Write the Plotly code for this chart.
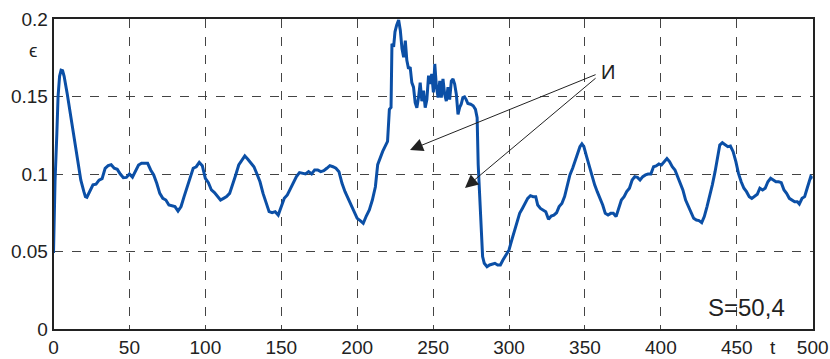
import plotly.graph_objects as go

# time samples
t = [0, 1, 2.2, 3, 4, 5, 6, 7, 9, 11, 13, 15, 17, 18, 20, 21, 22, 24, 26, 28,
     30, 32, 34, 36, 38, 40, 42, 44, 46, 48, 50, 52, 54, 56, 58, 60, 62, 64, 66, 68,
     70, 72, 74, 76, 78, 80, 82, 84, 86, 88, 90, 92, 94, 96, 98, 100, 102, 104, 106, 108,
     110, 112, 114, 116, 118, 120, 122, 124, 126, 128, 130, 132, 134, 136, 138, 140, 142, 144, 146, 148,
     150, 152, 154, 156, 158, 160, 162, 164, 166, 168, 170, 172, 174, 176, 178, 180, 182, 184, 186, 188,
     190, 192, 194, 196, 198, 200, 202, 204, 206, 208, 210, 212, 213.5, 216.8, 220, 221.2, 222.3, 222.9, 224, 224.9,
     226, 227.3, 228.4, 229.5, 230.6, 231.7, 232.7, 233.8, 234.9, 236, 237.1, 238.2, 239.3, 240.4, 241.5, 242.6, 243.7, 244.8, 245.9, 247,
     248, 249.1, 250.2, 251.1, 252.2, 253.3, 254.4, 255.4, 256.5, 257.6, 258.7, 259.8, 260.9, 262, 263.1, 264.2, 265.3, 266.4, 267.5, 268.5,
     269.6, 270.7, 271.8, 272.9, 274.7, 276.4, 277.9, 279, 279.7, 280.4, 281.5, 282.6, 283.7, 285.5, 287.2, 289, 290.7, 292.5, 294.3, 296,
     297.8, 300, 301.8, 303.5, 305.3, 307, 308.8, 310.6, 312.3, 314.1, 315.9, 317.6, 318.9, 320.7, 322.5, 324.2, 326, 327.8, 329.5, 331.3,
     333, 334.8, 336.6, 338.3, 340.1, 341.9, 343.6, 345.4, 346.7, 348, 349.3, 351.1, 352.9, 354.6, 356.4, 358.1, 359.9, 361.7, 363.4, 365.2,
     367, 368.7, 370.5, 372.2, 374, 375.8, 377.5, 379.3, 381.1, 382.8, 384.6, 386.3, 388.1, 389.9, 391.6, 393.4, 395.2, 396.9, 398.7, 400.4,
     402.2, 404, 405.7, 407.5, 409.3, 411, 412.8, 414.5, 416.3, 418.1, 419.8, 421.6, 423.4, 425.1, 426.9, 428.6, 430.4, 432.2, 433.9, 435.7,
     437.4, 438.8, 440.5, 442.3, 444.1, 445.8, 447.6, 449.4, 451.1, 452.9, 454.7, 456.4, 458.2, 459.9, 461.7, 463.5, 465.2, 467, 468.7, 470.5,
     472.3, 474, 475.8, 477.6, 479.3, 481.1, 482.8, 484.6, 486.3, 488.1, 489.9, 491.2, 493, 494.7, 496, 497.4, 498.7, 500]

# epsilon values
eps = [0.049, 0.095, 0.126, 0.150, 0.163, 0.167, 0.1667, 0.163, 0.152, 0.139, 0.126, 0.113, 0.100, 0.096, 0.0886, 0.0854, 0.085, 0.0886, 0.093, 0.0935,
       0.096, 0.097, 0.1037, 0.1054, 0.106, 0.1037, 0.103, 0.100, 0.0976, 0.0978, 0.100, 0.098, 0.1015, 0.1058, 0.107, 0.107, 0.1069, 0.1026, 0.0994, 0.094,
       0.0875, 0.0843, 0.0832, 0.080, 0.0794, 0.079, 0.0761, 0.079, 0.0854, 0.0918, 0.0983, 0.1037, 0.1047, 0.1075, 0.1054, 0.0972, 0.0944, 0.0897, 0.088, 0.0854,
       0.0832, 0.0843, 0.0854, 0.0875, 0.093, 0.0994, 0.1058, 0.109, 0.1116, 0.1095, 0.1069, 0.1047, 0.100, 0.095, 0.0875, 0.081, 0.0757, 0.075, 0.0757, 0.0735,
       0.079, 0.0843, 0.0865, 0.0908, 0.095, 0.0983, 0.1009, 0.1004, 0.100, 0.1015, 0.100, 0.1026, 0.1026, 0.1015, 0.1021, 0.1037, 0.1054, 0.1047, 0.1037, 0.1015,
       0.094, 0.0886, 0.0843, 0.081, 0.0768, 0.0714, 0.0699, 0.0682, 0.0729, 0.0768, 0.0832, 0.0918, 0.106, 0.1146, 0.121, 0.1417, 0.143, 0.184, 0.182, 0.1917,
       0.196, 0.1993, 0.1928, 0.181, 0.1754, 0.186, 0.1733, 0.168, 0.169, 0.159, 0.156, 0.146, 0.1428, 0.1493, 0.159, 0.147, 0.1537, 0.1428, 0.148, 0.1635,
       0.158, 0.1646, 0.1526, 0.171, 0.156, 0.1493, 0.160, 0.1493, 0.1613, 0.1515, 0.147, 0.156, 0.148, 0.160, 0.1613, 0.158, 0.1515, 0.1385, 0.143, 0.145,
       0.1493, 0.1498, 0.148, 0.1455, 0.145, 0.144, 0.1417, 0.1363, 0.106, 0.0918, 0.066, 0.0467, 0.0424, 0.0402, 0.0413, 0.042, 0.0424, 0.0413, 0.0413, 0.0445,
       0.0477, 0.051, 0.0574, 0.0628, 0.0692, 0.0746, 0.0778, 0.081, 0.0843, 0.086, 0.0854, 0.0854, 0.080, 0.0778, 0.0768, 0.0757, 0.0708, 0.0729, 0.0735, 0.075,
       0.079, 0.081, 0.0854, 0.0918, 0.0994, 0.1037, 0.109, 0.1144, 0.1176, 0.1194, 0.1176, 0.1112, 0.1047, 0.0994, 0.093, 0.0886, 0.0843, 0.080, 0.0746, 0.0735,
       0.0746, 0.0746, 0.0725, 0.0778, 0.0832, 0.0854, 0.0886, 0.0908, 0.0961, 0.0983, 0.0978, 0.0961, 0.0983, 0.0994, 0.100, 0.100, 0.1047, 0.1052, 0.1065, 0.1058,
       0.108, 0.110, 0.108, 0.1047, 0.1026, 0.0983, 0.094, 0.0897, 0.0832, 0.079, 0.0746, 0.0714, 0.0703, 0.0699, 0.0686, 0.0725, 0.079, 0.0854, 0.093, 0.1015,
       0.1112, 0.1187, 0.1202, 0.1187, 0.1176, 0.118, 0.1144, 0.108, 0.1004, 0.095, 0.0908, 0.0886, 0.0854, 0.0843, 0.0858, 0.0869, 0.0908, 0.0897, 0.0908, 0.095,
       0.0972, 0.0961, 0.095, 0.095, 0.0944, 0.0897, 0.0875, 0.0843, 0.0832, 0.0821, 0.0821, 0.0806, 0.0843, 0.0854, 0.0897, 0.095, 0.0983, 0.0972]

x_ticks = [0, 50, 100, 150, 200, 250, 300, 350, 400, 450, 500]
y_ticks = [0, 0.05, 0.1, 0.15, 0.2]
y_tick_text = ["0", "0.05", "0.1", "0.15", "0.2"]

font_family = "Liberation Sans, Arial, sans-serif"
W, H = 830, 359

fig = go.Figure()
fig.add_trace(go.Scatter(x=t, y=eps, mode="lines",
                         line=dict(color="#0b4fa6", width=3), showlegend=False,
                         hoverinfo="skip"))

axis_common = dict(showline=True, linecolor="#222", linewidth=1.5, mirror=True,
                   showgrid=True, gridcolor="#444", griddash="dash", gridwidth=1,
                   zeroline=False, ticks="", automargin=False,
                   tickfont=dict(size=19, color="#222", family=font_family))

fig.update_xaxes(range=[0, 500], tickvals=x_ticks,
                 domain=[53.5 / W, 812.7 / W], **axis_common)
fig.update_yaxes(range=[0, 0.2], tickvals=y_ticks, ticktext=y_tick_text,
                 domain=[(H - 329) / H, (H - 19) / H], **axis_common)

fig.update_layout(
    width=W, height=H,
    margin=dict(l=0, r=0, t=0, b=0, autoexpand=False),
    paper_bgcolor="white", plot_bgcolor="white",
    font=dict(family=font_family, color="#222"),
)

# axis labels
fig.add_annotation(x=33 / W, y=1 - 51 / H, xref="paper", yref="paper", text="ϵ",
                   xanchor="center", yanchor="middle",
                   showarrow=False, font=dict(size=19, color="#222", family=font_family))
fig.add_annotation(x=773 / W, y=1 - 347 / H, xref="paper", yref="paper", text="t",
                   xanchor="center", yanchor="middle",
                   showarrow=False, font=dict(size=19, color="#222", family=font_family))

# S label
fig.add_annotation(x=483, y=0.0139, xref="x", yref="y", text="S=50,4", showarrow=False,
                   xanchor="right", font=dict(size=24, color="#222", family=font_family))

# И label and arrows
fig.add_annotation(x=359, y=0.1655, xref="x", yref="y", text="И", showarrow=False,
                   xanchor="left", font=dict(size=20, color="#222", family=font_family))
fig.add_annotation(x=234.8, y=0.1155, ax=358, ay=0.1645, xref="x", yref="y", axref="x", ayref="y",
                   text="", showarrow=True, arrowhead=2, arrowsize=2.6, arrowwidth=1, arrowcolor="#222")
fig.add_annotation(x=271, y=0.091, ax=358, ay=0.1626, xref="x", yref="y", axref="x", ayref="y",
                   text="", showarrow=True, arrowhead=2, arrowsize=2.6, arrowwidth=1, arrowcolor="#222")

fig.write_html("out.html")
